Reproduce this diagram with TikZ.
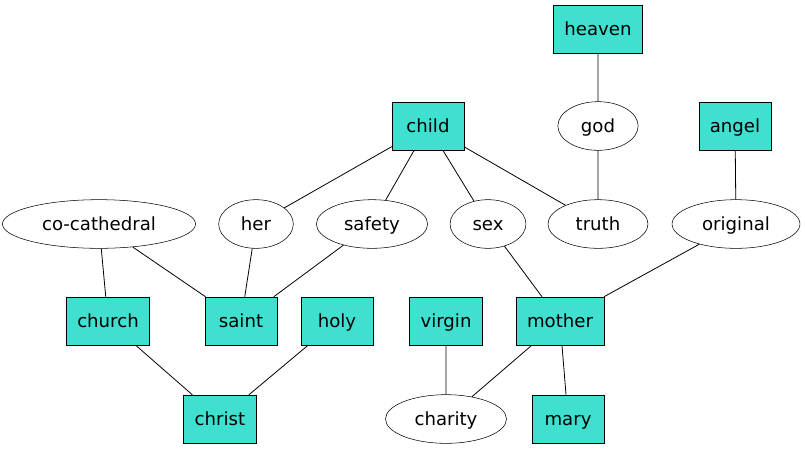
\documentclass[tikz,border=0pt]{standalone}
\usepackage{fontspec}
\setmainfont{DejaVu Sans}
\usepackage{tikz}
\usetikzlibrary{shapes.geometric}
\definecolor{turq}{HTML}{40E0D0}
\tikzstyle{box} = [rectangle, draw, fill=turq, inner xsep=8.25pt,
    minimum width=54pt, minimum height=36pt, text height=11.5pt, text depth=1.7pt]
\tikzstyle{oval} = [ellipse, draw, fill=white, inner xsep=8.5pt, inner ysep=0pt,
    minimum width=55pt, minimum height=36.5pt, text height=11.5pt, text depth=1.7pt]

\begin{document}
\begin{tikzpicture}[
x=0.75pt, y=-0.75pt,
every node/.style = {font=\fontsize{13.6}{16}\selectfont},
link/.style = {draw, line width=0.6pt}
                        ]
\useasboundingbox (0,0) rectangle (805,451);
% top rows
\node [box] (heaven) at (598,29) {heaven};
\node [oval] (god) at (598,126) {god};
\node [box] (child) at (428,126) {child};
\node [box] (angel) at (735,126) {angel};
% middle row
\node [oval] (cocath) at (99,224) {co-cathedral};
\node [oval] (her) at (256,224) {her};
\node [oval] (safety) at (372,224) {safety};
\node [oval] (sex) at (488,224) {sex};
\node [oval, minimum width=75pt] (truth) at (598,224) {truth};
\node [oval] (original) at (736,224) {original};
% lower rows
\node [box] (church) at (108,321) {church};
\node [box] (saint) at (241,321) {saint};
\node [box] (holy) at (337,321) {holy};
\node [box] (virgin) at (446,321) {virgin};
\node [box] (mother) at (560,321) {mother};
\node [box] (christ) at (220,419) {christ};
\node [oval] (charity) at (446,419) {charity};
\node [box] (mary) at (568,419) {mary};

\path [link] (heaven) -- (god)
    (god) -- (truth)
    (angel) -- (original)
    (child) -- (her)
    (child) -- (safety)
    (child) -- (sex)
    (child) -- (truth)
    (cocath) -- (church)
    (cocath) -- (saint)
    (her) -- (saint)
    (safety) -- (saint)
    (sex) -- (mother)
    (original) -- (mother)
    (church) -- (christ)
    (holy) -- (christ)
    (virgin) -- (charity)
    (mother) -- (charity)
    (mother) -- (mary);
\end{tikzpicture}
\end{document}
